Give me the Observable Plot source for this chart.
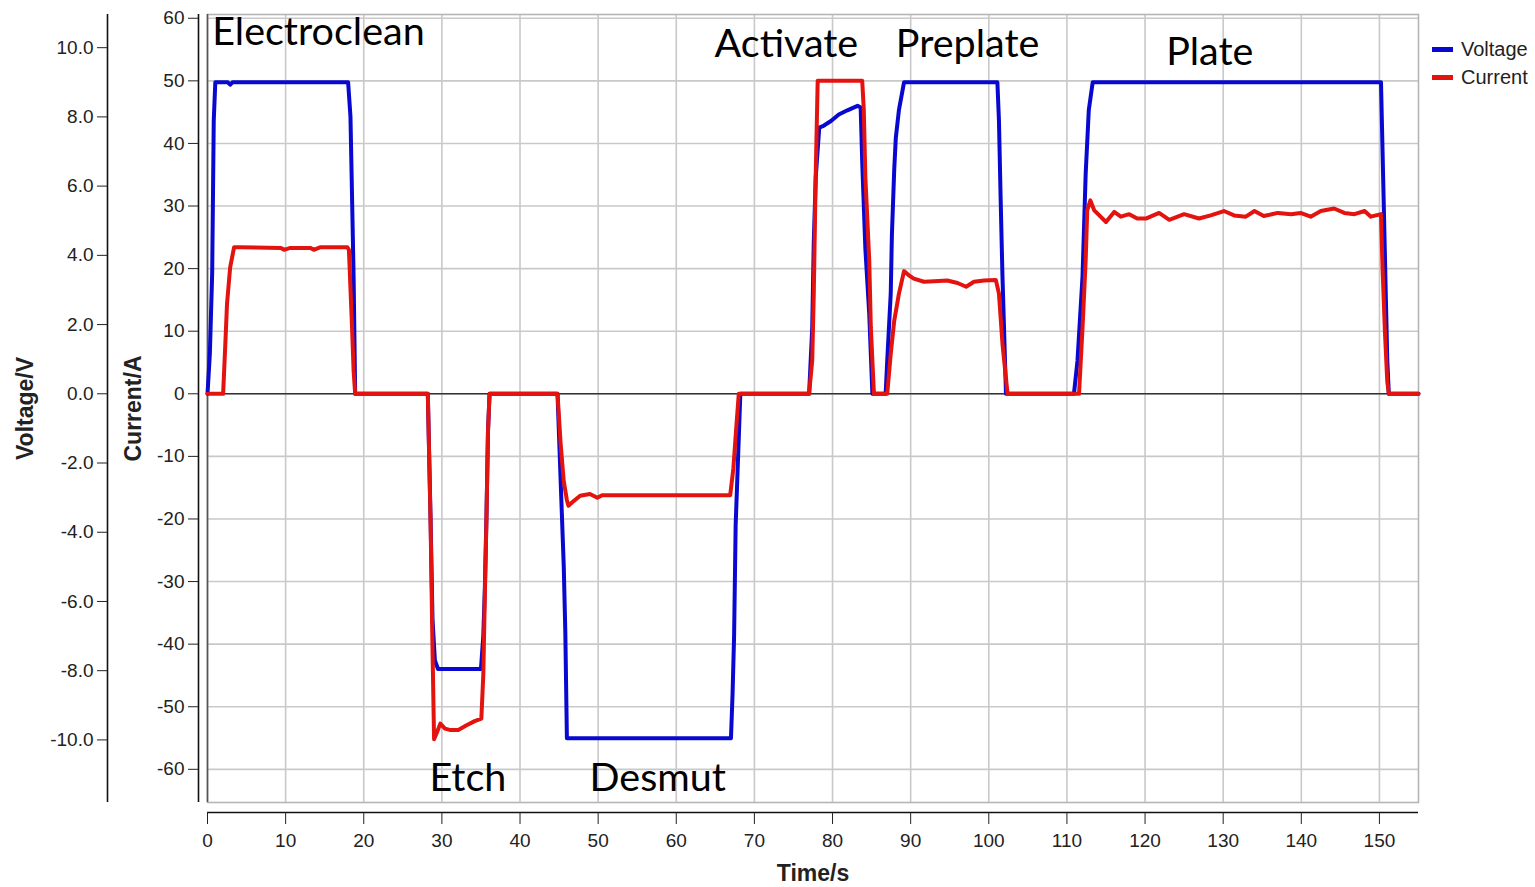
<!DOCTYPE html>
<html><head><meta charset="utf-8">
<script src="https://cdn.jsdelivr.net/npm/d3@7"></script>
<script src="https://cdn.jsdelivr.net/npm/@observablehq/plot@0.6"></script>
<style>
body{margin:0;background:#fff;}
#wrap{position:relative;width:1535px;height:887px;overflow:hidden;}
.leg{position:absolute;left:1432px;font:20px "Liberation Sans",Arial,sans-serif;color:#222;display:flex;align-items:center;height:22px;}
.leg .sw{display:inline-block;width:21px;height:5px;margin-right:8px;}
</style></head><body><div id="wrap"></div>
<script>
// Voltage trace (V)
const voltTime = [0,0.3,0.6,0.7,0.8,1.0,2.6,2.9,3.2,18.0,18.3,18.5,18.7,18.9,
  28.2,28.55,28.8,29.1,29.5,35.0,35.3,35.5,35.7,35.9,36.1,
  44.8,45.2,45.6,45.8,46.0,67.0,67.2,67.4,67.6,68.2,
  77.0,77.4,77.6,77.85,78.3,78.9,79.8,80.8,81.9,83.2,83.6,83.8,84.2,84.7,85.1,
  86.8,87.0,87.45,87.6,87.9,88.1,88.5,89.15,101.1,101.3,101.5,101.75,102.2,
  110.9,111.35,112.0,112.4,112.8,113.3,150.2,150.4,150.7,151.0,151.2,155];
const voltValue = [0,1.15,3.5,5.7,7.9,9.0,9.0,8.93,9.0,9.0,8.0,5.7,3.4,0,
  0,-3.6,-6.5,-7.7,-7.95,-7.95,-7.0,-5.6,-3.6,-1.1,0,
  0,-2.5,-5.0,-6.9,-9.95,-9.95,-8.7,-7.0,-3.8,0,
  0,1.9,4.4,6.25,7.69,7.75,7.88,8.07,8.19,8.32,8.27,6.7,4.2,2.3,0,
  0,0.95,2.9,4.6,6.5,7.4,8.2,9.0,9.0,7.9,5.8,3.4,0,
  0,0.95,3.4,6.35,8.2,9.0,9.0,7.0,4.0,1.0,0,0];

// Current trace (A)
const currTime = [0,2.0,2.3,2.5,2.9,3.4,4.2,9.4,9.8,10.6,13.2,13.6,14.4,17.9,18.1,18.5,18.7,18.9,
  28.2,28.55,28.8,29.0,29.4,29.8,30.4,31.0,32.1,33.1,34.2,35.05,35.3,35.5,35.7,35.9,36.1,
  44.8,45.2,45.6,46.0,46.2,46.9,47.7,48.95,49.9,50.5,66.9,67.3,67.7,68.0,
  77.0,77.4,77.6,77.85,78.1,83.8,84.0,84.2,84.7,84.9,85.3,
  87.0,87.45,87.9,88.5,89.15,89.8,90.4,91.7,93.0,94.7,96.0,97.1,98.1,99.4,100.9,101.3,101.75,102.4,
  111.55,112.0,112.4,112.6,113.0,113.5,115.0,116.05,116.9,117.97,119.0,120.1,121.8,123.1,125.0,
  126.9,128.4,130.1,131.4,132.9,134.0,135.2,137.0,138.7,139.9,141.2,142.5,144.2,145.5,146.8,
  148.1,148.9,150.2,150.4,150.7,151.0,151.2,155];
const currValue = [0,0,8.5,14.4,20.2,23.4,23.4,23.3,23.0,23.3,23.3,23.0,23.4,23.4,23.0,10.6,3.7,0,
  0,-20.4,-40.8,-55.2,-54.0,-52.7,-53.5,-53.7,-53.7,-53.0,-52.3,-51.9,-44.9,-32.1,-20.3,-6,0,
  0,-8,-14,-17,-17.9,-17.1,-16.3,-16.0,-16.6,-16.2,-16.2,-12,-5,0,
  0,5.3,16,35.2,50,50,45.4,34.7,21.3,10.6,0,
  0,6.4,11.7,16,19.6,18.9,18.4,17.9,18.0,18.1,17.7,17.1,17.9,18.1,18.2,16.0,8.0,0,
  0,10.6,21.3,29.3,30.9,29.3,27.45,29.06,28.3,28.7,28.0,28.0,28.9,27.8,28.7,
  28.0,28.5,29.2,28.5,28.3,29.2,28.4,28.9,28.7,28.9,28.3,29.2,29.6,28.9,28.7,
  29.2,28.3,28.7,20,10,2,0,0];

// Ticks
const timeTicks = d3.range(0, 151, 10);
const currentTicks = d3.range(-60, 61, 10);
const voltageTicks = d3.range(-10, 11, 2);

// Stage annotations
const stageLabels = ["Electroclean", "Etch", "Desmut", "Activate", "Preplate", "Plate"];
const stageTime = [0.6, 28.4, 48.9, 64.9, 88.1, 122.7];
const stageCurrent = [57.7, -61.5, -61.5, 55.9, 55.9, 54.6];

const seriesNames = ["Voltage", "Current"];
const seriesColors = ["#0808d0", "#e3130f"];

const K = 5.53; // current units per volt (dual-axis mapping)
const yDomain = [-65.3, 60.6];
const volt = voltTime.map((t, i) => ({t, v: voltValue[i] * K}));
const curr = currTime.map((t, i) => ({t, a: currValue[i]}));
const font = '"Liberation Sans", Arial, sans-serif';

const chart = Plot.plot({
  width: 1535, height: 887,
  marginLeft: 207, marginRight: 117, marginTop: 14, marginBottom: 85,
  x: {domain: [0, 155], axis: null},
  y: {domain: yDomain, axis: null},
  style: {fontFamily: font, fontSize: "19px", color: "#222", background: "#fff", overflow: "visible"},
  marks: [
    Plot.gridX(timeTicks.filter(d => d > 0), {stroke: "#c9c9c9", strokeOpacity: 1, strokeWidth: 1.6}),
    Plot.gridY(currentTicks, {stroke: "#c9c9c9", strokeOpacity: 1, strokeWidth: 1.6}),
    Plot.frame({stroke: "#b5b5b5", strokeWidth: 1.6}),
    Plot.ruleX([0], {stroke: "#555", strokeWidth: 1.6}),
    Plot.ruleY([0], {stroke: "#333", strokeWidth: 1.5}),
    // current axis
    Plot.ruleX([0], {y1: yDomain[0], y2: yDomain[1], dx: -9, stroke: "#111", strokeWidth: 1.6}),
    Plot.axisY(currentTicks, {anchor: "left", dx: -9, tickSize: 10, tickPadding: 4, tickFormat: d => String(d), label: null, fontSize: 19}),
    // voltage axis
    Plot.ruleX([0], {y1: yDomain[0], y2: yDomain[1], dx: -100, stroke: "#111", strokeWidth: 1.6}),
    Plot.axisY(voltageTicks.map(v => v * K), {anchor: "left", dx: -100, tickSize: 10, tickPadding: 4, tickFormat: d => (d / K).toFixed(1), label: null, fontSize: 19}),
    // time axis
    Plot.ruleY([yDomain[0]], {x1: 0, x2: 155, dy: 10, stroke: "#111", strokeWidth: 1.6}),
    Plot.axisX(timeTicks, {anchor: "bottom", dy: 10, tickSize: 12, tickPadding: 9, tickFormat: d => String(d), label: null, fontSize: 19}),
    // axis titles
    Plot.text(["Voltage/V"], {frameAnchor: "left", dx: -182, rotate: -90, textAnchor: "middle", lineAnchor: "middle", fontWeight: "bold", fontSize: 23, fill: "#222"}),
    Plot.text(["Current/A"], {frameAnchor: "left", dx: -74, rotate: -90, textAnchor: "middle", lineAnchor: "middle", fontWeight: "bold", fontSize: 23, fill: "#222"}),
    Plot.text(["Time/s"], {frameAnchor: "bottom", dy: 71, textAnchor: "middle", lineAnchor: "middle", fontWeight: "bold", fontSize: 23, fill: "#222"}),
    // series
    Plot.line(volt, {x: "t", y: "v", stroke: seriesColors[0], strokeWidth: 4}),
    Plot.line(curr, {x: "t", y: "a", stroke: seriesColors[1], strokeWidth: 4}),
    // stage labels
    Plot.text(stageLabels, {x: stageTime, y: stageCurrent, textAnchor: "start", fontFamily: "Lato, 'Open Sans', sans-serif", fontSize: 39.5, fill: "#000"})
  ]
});
const wrap = document.getElementById("wrap");
wrap.appendChild(chart);
seriesNames.forEach((name, i) => {
  const d = document.createElement("div");
  d.className = "leg";
  d.style.top = (38 + i * 28) + "px";
  d.innerHTML = `<span class="sw" style="background:${seriesColors[i]}"></span>${name}`;
  wrap.appendChild(d);
});
</script></body></html>
